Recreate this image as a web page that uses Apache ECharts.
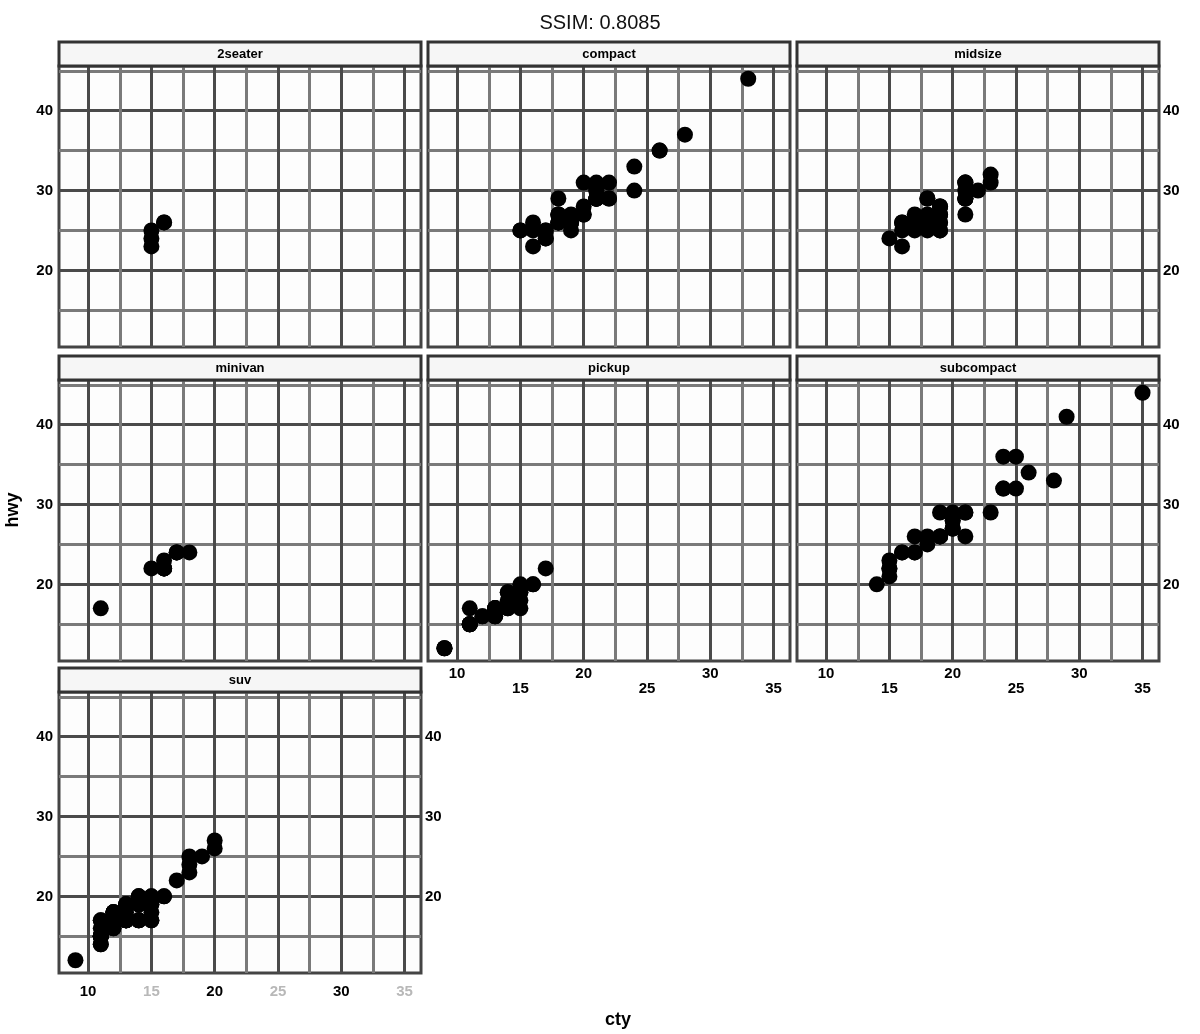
<!DOCTYPE html>
<html><head><meta charset="utf-8">
<script src="https://cdn.jsdelivr.net/npm/echarts@6/dist/echarts.min.js"></script>
<style>html,body{margin:0;padding:0;background:#fff}#c{width:1200px;height:1034px}</style>
</head><body><div id="c"></div>
<script>
const panelNames = ['2seater', 'compact', 'midsize', 'minivan', 'pickup', 'subcompact', 'suv'];
const titleText = 'SSIM: 0.8085';
const xTitle = 'cty';
const yTitle = 'hwy';
const xLabelTicks = [10, 15, 20, 25, 30, 35];
const yLabelTicks = [20, 30, 40];
const xGridTicks = [10, 12.5, 15, 17.5, 20, 22.5, 25, 27.5, 30, 32.5, 35];
const yGridTicks = [15, 20, 25, 30, 35, 40, 45];
const xRange = [7.7, 36.3];
const yRange = [10.4, 45.6];

const ptsTwoseater = [[16,26],[15,23],[16,26],[15,25],[15,24]];
const ptsCompact = [[18,29],[21,29],[20,31],[21,30],[16,26],[18,26],[18,27],
  [18,26],[16,25],[20,28],[19,27],[15,25],[17,25],[17,25],[15,25],
  [18,26],[21,30],[21,31],[22,31],[18,26],[18,27],[18,27],
  [24,30],[24,33],[26,35],[28,37],[26,35],
  [21,29],[19,26],[21,29],[22,29],[17,24],
  [33,44],[21,29],[19,26],[22,29],[21,29],[21,29],[21,29],[16,23],[17,24],
  [19,26],[20,27],[20,27],[19,25]];
const ptsMidsize = [[15,24],[17,25],[16,23],
  [19,27],[22,30],[18,26],[18,29],[17,26],
  [18,26],[18,27],[21,30],[21,31],[18,26],[19,26],[19,28],
  [19,27],[21,29],[23,31],[23,32],[19,27],[19,26],
  [18,26],[19,25],[19,25],
  [18,26],[16,26],[17,27],[18,25],[16,25],
  [21,29],[21,27],[21,31],[21,31],[18,26],[18,26],[19,28],
  [21,29],[18,29],[19,28],[21,29],[16,26],[18,26],[17,26]];
const ptsMinivan = [[18,24],[17,24],[16,22],[16,22],[17,24],[17,24],[16,22],[16,22],[16,23],[11,17],[15,22]];
const ptsPickup = [[15,19],[14,18],[13,17],[14,17],[14,19],[14,19],[9,12],[11,17],[11,15],
  [12,16],[9,12],[13,17],[13,17],[11,15],[13,17],[11,15],[11,15],[12,16],[9,12],
  [14,17],[13,16],[13,16],[13,16],[13,17],[11,15],[13,17],
  [15,20],[16,20],[15,18],[17,22],[16,20],[15,19],[15,17]];
const ptsSubcompact = [[28,33],[24,32],[25,32],[23,29],[24,32],[26,34],[25,36],[24,36],[21,29],
  [35,44],[29,41],[21,29],[19,26],[20,28],[20,29],
  [18,26],[18,25],[17,26],[16,24],[15,21],[15,22],[15,23],[15,22],[14,20],
  [19,26],[19,29],[20,28],[20,27],[17,24],[16,24],[17,24],
  [20,27],[19,26],[21,26],[20,27]];
const ptsSuv = [[14,20],[11,15],[14,20],[13,17],[12,17],
  [14,19],[11,14],[11,15],[14,17],
  [13,17],[12,16],[12,16],[13,17],[11,15],[13,17],[11,15],
  [11,17],[11,17],[12,17],
  [14,19],[13,19],[13,19],[13,17],[13,17],[14,19],
  [17,22],[15,19],[15,20],[14,17],[9,12],[14,19],[15,18],[11,14],
  [11,15],[12,18],[12,18],[11,15],
  [12,18],[11,16],[12,18],
  [14,19],[13,19],[13,19],[13,17],
  [14,17],[15,17],[14,20],[12,18],
  [18,25],[18,24],[20,27],[19,25],[20,26],[18,23],
  [15,20],[16,20],[15,19],[15,17],[16,20],[14,17],
  [11,15],[13,18]];
const panelData = [ptsTwoseater, ptsCompact, ptsMidsize, ptsMinivan, ptsPickup, ptsSubcompact, ptsSuv];

const colLeft = [59, 428, 797];
const rowTop = [66, 380, 692];
const W = 362, H = 281, STRIP = 24;
const bottomPanels = [4, 5, 6];
const leftPanels = [0, 3, 6];
const rightPanels = [2, 5, 6];

const grids = [], xAxes = [], yAxes = [], series = [], graphics = [];
panelNames.forEach((name, i) => {
  const r = Math.floor(i / 3), c = i % 3;
  const left = colLeft[c], top = rowTop[r];
  grids.push({left: left, top: top, width: W, height: H, show: true,
    backgroundColor: '#fdfdfd', borderColor: '#444', borderWidth: 3});
  const isBottom = bottomPanels.includes(i);
  xAxes.push({type: 'value', gridIndex: i, min: xRange[0], max: xRange[1],
    axisLine: {show: false},
    axisTick: {show: false, customValues: xGridTicks},
    splitLine: {show: true, lineStyle: {color: ['#4a4a4a', '#7a7a7a'], width: 3}},
    axisLabel: {show: isBottom, customValues: xLabelTicks, fontSize: 15, fontWeight: 'bold',
      fontFamily: 'Liberation Sans', margin: i === 6 ? 11 : 5, lineHeight: 15,
      color: (v) => (i === 6 && v % 10 === 5) ? '#b8b8b8' : '#000',
      formatter: (v) => (i !== 6 && v % 10 === 5) ? '\n' + v : String(v)}
  });
  const yIdx = yAxes.length;
  yAxes.push({type: 'value', gridIndex: i, min: yRange[0], max: yRange[1],
    axisLine: {show: false},
    axisTick: {show: false, customValues: yGridTicks},
    splitLine: {show: true, lineStyle: {color: ['#7a7a7a', '#4a4a4a'], width: 3}},
    axisLabel: {show: leftPanels.includes(i), customValues: yLabelTicks, fontSize: 15,
      fontWeight: 'bold', fontFamily: 'Liberation Sans', color: '#000', margin: 6}
  });
  if (rightPanels.includes(i)) {
    yAxes.push({type: 'value', gridIndex: i, min: yRange[0], max: yRange[1], position: 'right',
      axisLine: {show: false}, splitLine: {show: false},
      axisTick: {show: false, customValues: yLabelTicks},
      axisLabel: {show: true, customValues: yLabelTicks, fontSize: 15, fontWeight: 'bold',
        fontFamily: 'Liberation Sans', color: '#000', margin: 4}
    });
  }
  series.push({type: 'scatter', xAxisIndex: i, yAxisIndex: yIdx, data: panelData[i],
    symbolSize: 16, itemStyle: {color: '#000', opacity: 1}, silent: true});
  graphics.push({type: 'rect', shape: {x: left, y: top - STRIP, width: W, height: STRIP},
    style: {fill: '#f6f6f6', stroke: '#333', lineWidth: 3}, z: 10});
  graphics.push({type: 'text', x: left + W / 2, y: top - STRIP / 2,
    style: {text: name, fill: '#000', font: 'bold 13px "Liberation Sans"', align: 'center', verticalAlign: 'middle'}, z: 11});
});
graphics.push({type: 'text', x: 618, y: 1020,
  style: {text: xTitle, fill: '#000', font: 'bold 18px "Liberation Sans"', align: 'center', verticalAlign: 'middle'}});
graphics.push({type: 'text', x: 13, y: 510, rotation: Math.PI / 2,
  style: {text: yTitle, fill: '#000', font: 'bold 18px "Liberation Sans"', align: 'center', verticalAlign: 'middle'}});

const chart = echarts.init(document.getElementById('c'));
chart.setOption({
  animation: false,
  backgroundColor: '#fff',
  title: {text: titleText, left: 'center', top: 8,
    textStyle: {fontSize: 20, fontWeight: 'normal', color: '#111', fontFamily: 'Liberation Sans'}},
  grid: grids, xAxis: xAxes, yAxis: yAxes, series: series, graphic: graphics
});
</script></body></html>
